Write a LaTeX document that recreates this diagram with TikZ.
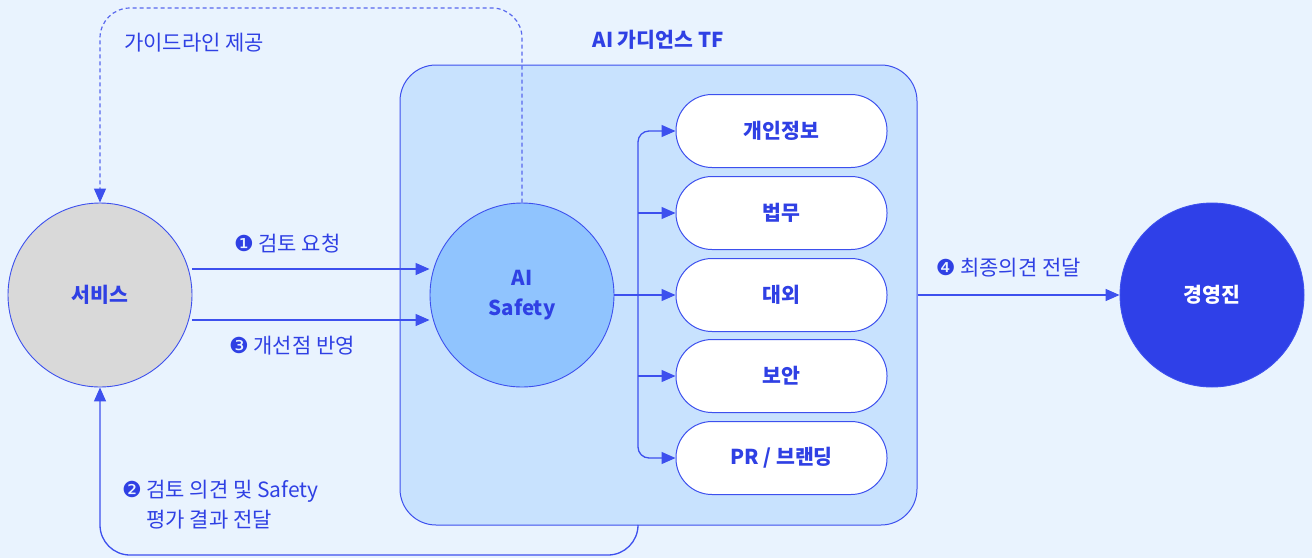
\documentclass[tikz,border=0pt]{standalone}
\usepackage{fontspec}
\setmainfont{Noto Sans CJK KR}
\newfontfamily\dvs{DejaVu Sans}
\usetikzlibrary{arrows.meta,calc}
\definecolor{bgc}{HTML}{E9F3FE}
\definecolor{tffill}{HTML}{C8E2FE}
\definecolor{lnc}{HTML}{3D50EE}
\definecolor{txc}{HTML}{2F40E4}
\definecolor{svcgray}{HTML}{D9D9D9}
\definecolor{aiblue}{HTML}{90C4FE}
\definecolor{bossblue}{HTML}{2F40E8}
\definecolor{dotc}{HTML}{5868EE}
\tikzset{
  lbl/.style={text=txc, font=\fontsize{21}{30}\selectfont, inner sep=0pt},
  boldlbl/.style={text=txc, font=\fontsize{20.5}{30}\selectfont\bfseries, inner sep=0pt},
  circ/.style={circle, draw=lnc, line width=0.9pt, minimum size=184pt, inner sep=0pt,
    text=txc, font=\fontsize{20.5}{30}\selectfont\bfseries, align=center},
  tfbox/.style={draw=lnc, line width=1pt, fill=tffill, rounded corners=36pt,
    minimum width=517pt, minimum height=460pt, inner sep=0pt},
  pill/.style={draw=lnc, line width=1pt, fill=white, rounded corners=36pt,
    minimum width=211pt, minimum height=73pt, inner sep=0pt,
    text=txc, font=\fontsize{20.5}{30}\selectfont\bfseries},
  arr/.style={draw=lnc, line width=1.3pt, -{Triangle[length=14pt,width=12pt]}},
  ln/.style={draw=lnc, line width=1.3pt},
  dotarr/.style={draw=dotc, line width=1.2pt, dash pattern=on 4pt off 3pt,
    -{Triangle[length=14pt,width=12pt,color=lnc]}},
}
\newcommand{\numc}[1]{{\dvs\fontsize{22}{30}\selectfont #1}}
\begin{document}
\begin{tikzpicture}[x=1pt,y=-1pt]
\fill[bgc] (0,0) rectangle (1312,558);
\useasboundingbox (0,0) rectangle (1312,558);

% TF box
\node[tfbox] (tf) at (658.5,295) {};
\node[boldlbl] (tft) at (658,40) {AI 가디언스 TF};

% circles
\node[circ, fill=svcgray] (svc) at (100,295) {서비스};
\node[circ, fill=aiblue] (ai) at (522,295) {AI\\Safety};
\node[circ, fill=bossblue, text=white] (boss) at (1212,295) {경영진};

% pills
\node[pill] (p1) at (781.5,131) {개인정보};
\node[pill] (p2) at (781.5,213) {법무};
\node[pill] (p3) at (781.5,295) {대외};
\node[pill] (p4) at (781.5,376) {보안};
\node[pill] (p5) at (781.5,458) {PR / 브랜딩};

% branch
\coordinate (bx) at (638,295);
\draw[arr] (ai.east) -- (p3.west);
\draw[arr, rounded corners=11pt] (bx) -- (bx |- p1.west) -- (p1.west);
\draw[arr, rounded corners=11pt] (bx) -- (bx |- p5.west) -- (p5.west);
\draw[arr] (bx |- p2.west) -- (p2.west);
\draw[arr] (bx |- p4.west) -- (p4.west);

% service <-> AI safety
\draw[arr] ([yshift=26pt]svc.east) -- ([yshift=26pt]ai.west)
  node[lbl, pos=0.4, yshift=25pt] (l1) {\numc{❶} 검토 요청};
\draw[arr] ([yshift=-25pt]svc.east) -- ([yshift=-25pt]ai.west)
  node[lbl, pos=0.42, yshift=-26pt] (l3) {\numc{❸} 개선점 반영};

% final opinion
\draw[arr] (tf.east) -- (boss.west)
  node[lbl, pos=0.45, yshift=27pt] (l4) {\numc{❹} 최종의견 전달};

% guideline dotted
\draw[dotarr, rounded corners=30pt] (ai.north) -- (ai.north |- 0,8) -- (svc.north |- 0,8) -- (svc.north);
\node[lbl, anchor=west] (lg) at (124,43) {가이드라인 제공};

% feedback
\draw[arr, rounded corners=30pt] (tf.south -| bx) -- (bx |- 0,555) -- (svc.south |- 0,555) -- (svc.south);
\node[lbl, anchor=north west, align=left] (l2) at (122,480) {\numc{❷} 검토 의견 및 Safety\\\hphantom{\numc{❷} }평가 결과 전달};
\end{tikzpicture}
\end{document}
